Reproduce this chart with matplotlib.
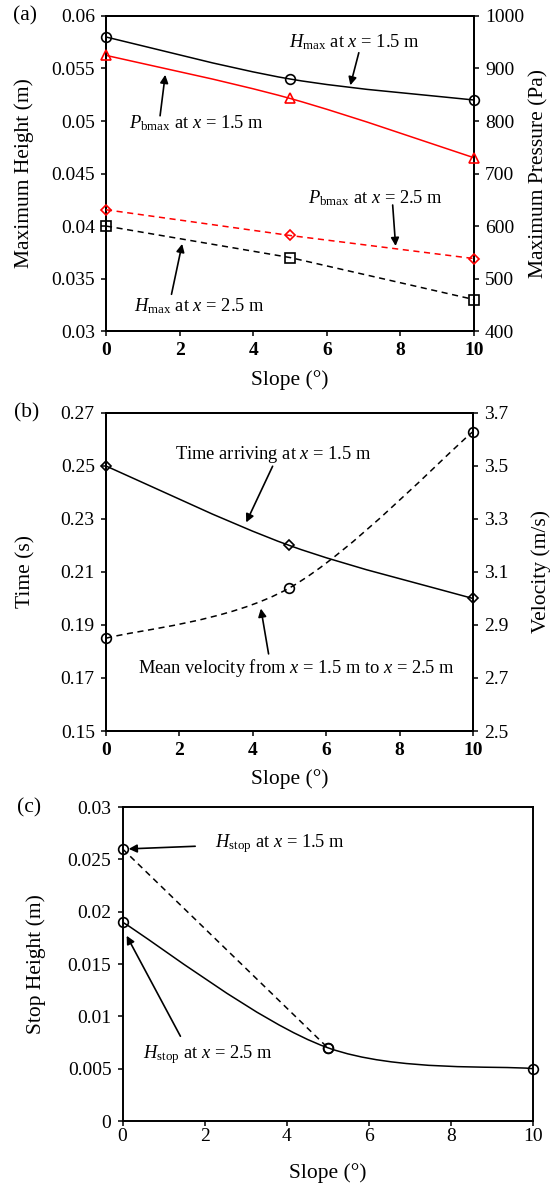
import numpy as np
import matplotlib
matplotlib.use("Agg")
import matplotlib.pyplot as plt
from matplotlib.path import Path
from matplotlib.patches import PathPatch

plt.rcParams['font.family'] = ['Liberation Serif', 'DejaVu Serif']
plt.rcParams['mathtext.fontset'] = 'custom'
plt.rcParams['mathtext.rm'] = 'Liberation Serif'
plt.rcParams['mathtext.it'] = 'Liberation Serif:italic'
plt.rcParams['mathtext.bf'] = 'Liberation Serif:bold'

# ---- data ----
slope = [0, 5, 10]
hmax_15 = [0.058, 0.054, 0.052]
hmax_25 = [0.040, 0.037, 0.033]
pbmax_15 = [925, 843, 730]
pbmax_25 = [631, 582, 538]
time_15 = [0.25, 0.22, 0.20]
vel_mean = [2.85, 3.04, 3.63]
slope_c15 = [0, 5]
hstop_15 = [0.026, 0.007]
hstop_25 = [0.019, 0.007, 0.005]

xticks = [0, 2, 4, 6, 8, 10]
yt_a = [0.03, 0.035, 0.04, 0.045, 0.05, 0.055, 0.06]
yt_a_lbl = ['0.03', '0.035', '0.04', '0.045', '0.05', '0.055', '0.06']
yt_a2 = [400, 500, 600, 700, 800, 900, 1000]
yt_b = [0.15, 0.17, 0.19, 0.21, 0.23, 0.25, 0.27]
yt_b2 = [2.5, 2.7, 2.9, 3.1, 3.3, 3.5, 3.7]
yt_c = [0, 0.005, 0.01, 0.015, 0.02, 0.025, 0.03]
yt_c_lbl = ['0', '0.005', '0.01', '0.015', '0.02', '0.025', '0.03']

FS_T = 14
FS_L = 15.5
FS_A = 13.3
LW = 1.1


def smooth(ax, x, y, **kw):
    pts = np.column_stack([x, y]).astype(float)
    n = len(pts)
    verts = [pts[0]]
    codes = [Path.MOVETO]
    for i in range(n - 1):
        p0 = pts[i - 1] if i > 0 else pts[i]
        p1 = pts[i]
        p2 = pts[i + 1]
        p3 = pts[i + 2] if i + 2 < n else pts[i + 1]
        c1 = p1 + (p2 - p0) / 6.0
        c2 = p2 - (p3 - p1) / 6.0
        verts += [c1, c2, p2]
        codes += [Path.CURVE4] * 3
    patch = PathPatch(Path(verts, codes), fill=False, **kw)
    ax.add_patch(patch)


def tickstyle(ax):
    ax.tick_params(direction='out', length=3.5, width=1.1, pad=4.5, labelsize=FS_T)


def style(ax, bold_x=True):
    for s in ax.spines.values():
        s.set_linewidth(1.4)
    tickstyle(ax)
    ax.set_xlim(0, 10)
    ax.set_xticks(xticks)
    ax.set_xticklabels([str(t) for t in xticks],
                       fontweight='bold' if bold_x else 'normal', fontsize=FS_T)


fig = plt.figure(figsize=(5.52, 11.84), dpi=100)

# ---------- (a) ----------
axa = fig.add_axes([0.192, 0.7204, 0.6667, 0.2661])
axa2 = axa.twinx()
style(axa)
for s in axa2.spines.values():
    s.set_linewidth(1.4)
axa.set_ylim(0.03, 0.06)
axa.set_yticks(yt_a)
axa.set_yticklabels(yt_a_lbl)
axa2.set_ylim(400, 1000)
axa2.set_yticks(yt_a2)
tickstyle(axa2)
axa.set_xlabel('Slope (°)', fontsize=FS_L, labelpad=8)
axa.set_ylabel('Maximum Height (m)', fontsize=FS_L)
axa.yaxis.set_label_coords(-0.196, 0.5)
axa2.set_ylabel('Maximum Pressure (Pa)', fontsize=FS_L)
axa2.yaxis.set_label_coords(1.149, 0.5)

smooth(axa, slope, hmax_15, color='black', lw=LW)
axa.plot(slope, hmax_15, 'o', mfc='none', mec='black', ms=7, mew=1.2, clip_on=False, zorder=5)
axa.plot(slope, hmax_25, '--s', color='black', mfc='none', mec='black', ms=7, mew=1.2, lw=LW, dashes=(4, 3), clip_on=False, zorder=5)
smooth(axa2, slope, pbmax_15, color='red', lw=LW)
axa2.plot(slope, pbmax_15, '^', mfc='none', mec='red', ms=7, mew=1.2, clip_on=False, zorder=5)
axa2.plot(slope, pbmax_25, '--D', color='red', mfc='none', mec='red', ms=5, mew=1.2, lw=LW, dashes=(4, 3), clip_on=False, zorder=5)

arr = dict(arrowstyle='-|>', color='black', lw=1.2, mutation_scale=12, shrinkA=0, shrinkB=0)
axa.text(6.76, 0.0575, r'$\mathit{H}_{\mathrm{max}}$ at $\mathit{x}$ = 1.5 m', fontsize=FS_A, ha='center', va='center')
axa.annotate('', xy=(6.64, 0.0534), xytext=(6.87, 0.0565), arrowprops=arr)
axa.text(2.47, 0.0498, r'$\mathit{P}_{\mathrm{bmax}}$ at $\mathit{x}$ = 1.5 m', fontsize=FS_A, ha='center', va='center')
axa.annotate('', xy=(1.61, 0.0544), xytext=(1.47, 0.0505), arrowprops=arr)
axa.text(7.33, 0.0427, r'$\mathit{P}_{\mathrm{bmax}}$ at $\mathit{x}$ = 2.5 m', fontsize=FS_A, ha='center', va='center')
axa.annotate('', xy=(7.87, 0.0381), xytext=(7.79, 0.0420), arrowprops=arr)
axa.text(2.53, 0.0324, r'$\mathit{H}_{\mathrm{max}}$ at $\mathit{x}$ = 2.5 m', fontsize=FS_A, ha='center', va='center')
axa.annotate('', xy=(2.07, 0.0383), xytext=(1.78, 0.0335), arrowprops=arr)
fig.text(25.5 / 552, 1 - 16 / 1184, '(a)', fontsize=FS_L, ha='center', va='center')

# ---------- (b) ----------
axb = fig.add_axes([0.192, 0.3826, 0.6649, 0.2686])
axb2 = axb.twinx()
style(axb)
for s in axb2.spines.values():
    s.set_linewidth(1.4)
axb.set_ylim(0.15, 0.27)
axb.set_yticks(yt_b)
axb.set_yticklabels(['%.2f' % v for v in yt_b])
axb2.set_ylim(2.5, 3.7)
axb2.set_yticks(yt_b2)
axb2.set_yticklabels(['%.1f' % v for v in yt_b2])
tickstyle(axb2)
axb.set_xlabel('Slope (°)', fontsize=FS_L, labelpad=7.5)
axb.set_ylabel('Time (s)', fontsize=FS_L)
axb.yaxis.set_label_coords(-0.192, 0.5)
axb2.set_ylabel('Velocity (m/s)', fontsize=FS_L)
axb2.yaxis.set_label_coords(1.158, 0.5)

smooth(axb, slope, time_15, color='black', lw=LW)
axb.plot(slope, time_15, 'D', mfc='none', mec='black', ms=5, mew=1.2, clip_on=False, zorder=5)
smooth(axb2, slope, vel_mean, color='black', lw=LW, linestyle=(0, (4, 3)))
axb2.plot(slope, vel_mean, 'o', mfc='none', mec='black', ms=7, mew=1.2, clip_on=False, zorder=5)

axb.text(4.57, 0.2545, r'Time arriving at $\mathit{x}$ = 1.5 m', fontsize=FS_A, ha='center', va='center')
axb.annotate('', xy=(3.82, 0.2287), xytext=(4.54, 0.2499), arrowprops=arr)
axb.text(5.2, 0.1739, r'Mean velocity from $\mathit{x}$ = 1.5 m to $\mathit{x}$ = 2.5 m', fontsize=FS_A, ha='center', va='center')
axb.annotate('', xy=(4.22, 0.1962), xytext=(4.43, 0.1791), arrowprops=arr)
fig.text(26.5 / 552, 1 - 413 / 1184, '(b)', fontsize=FS_L, ha='center', va='center')

# ---------- (c) ----------
axc = fig.add_axes([0.222, 0.0532, 0.7435, 0.2652])
style(axc, bold_x=False)
axc.tick_params(axis='x', pad=1.5)
axc.set_ylim(0, 0.03)
axc.set_yticks(yt_c)
axc.set_yticklabels(yt_c_lbl)
axc.set_xlabel('Slope (°)', fontsize=FS_L, labelpad=13)
axc.set_ylabel('Stop Height (m)', fontsize=FS_L)
axc.yaxis.set_label_coords(-0.187, 0.5)

axc.plot(slope_c15, hstop_15, '--o', color='black', mfc='none', mec='black', ms=7, mew=1.2, lw=LW, dashes=(4, 3), clip_on=False, zorder=5)
smooth(axc, slope, hstop_25, color='black', lw=LW)
axc.plot(slope, hstop_25, 'o', mfc='none', mec='black', ms=7, mew=1.2, clip_on=False, zorder=5)

axc.text(3.83, 0.0265, r'$\mathit{H}_{\mathrm{stop}}$ at $\mathit{x}$ = 1.5 m', fontsize=FS_A, ha='center', va='center')
axc.annotate('', xy=(0.15, 0.0260), xytext=(1.77, 0.02625), arrowprops=arr)
axc.text(2.09, 0.00635, r'$\mathit{H}_{\mathrm{stop}}$ at $\mathit{x}$ = 2.5 m', fontsize=FS_A, ha='center', va='center')
axc.annotate('', xy=(0.10, 0.0177), xytext=(1.41, 0.0081), arrowprops=arr)
fig.text(29 / 552, 1 - 808 / 1184, '(c)', fontsize=FS_L, ha='center', va='center')

fig.savefig('out.png', dpi=100)
